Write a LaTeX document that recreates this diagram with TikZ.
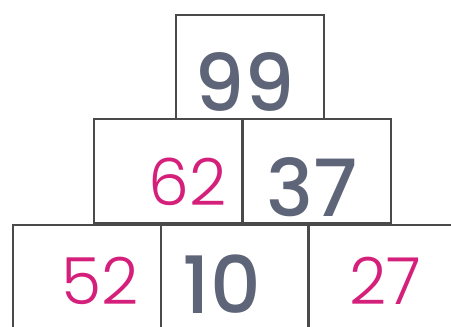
\documentclass[tikz,border=0pt]{standalone}
\usepackage{fontspec}
\newfontfamily\numfont{Poppins Medium}
\newfontfamily\handfont{Poppins Light}
\definecolor{inkgray}{HTML}{5E6578}
\definecolor{inkpink}{HTML}{D4207A}
\definecolor{linegray}{HTML}{4A4A4A}
\begin{document}
\begin{tikzpicture}[x=0.02cm,y=-0.02cm,
  cell/.style={draw=linegray,line width=0.9pt,minimum width=2.96cm,minimum height=2.08cm,inner sep=0pt,anchor=north west},
  given/.style={text=inkgray,font=\numfont\fontsize{45}{45}\selectfont,inner sep=0pt},
  found/.style={text=inkpink,font=\handfont\fontsize{37}{37}\selectfont,inner sep=0pt}]
\useasboundingbox (0,0) rectangle (451,326);
\clip (0,0) rectangle (451,326);
% top row
\node[cell] (top) at (175,14) {};
% middle row
\node[cell] (midl) at (93,118) {};
\node[cell] (midr) at (242,118) {};
% bottom row
\node[cell] (botl) at (12,224) {};
\node[cell] (botm) at (160,224) {};
\node[cell] (botr) at (307,224) {};
% numbers
\node[given] (n99) at (245,82) {99};
\node[found] (n62) at (188,182) {62};
\node[given] (n37) at (312,187) {37};
\node[found] (n52) at (100,281) {52};
\node[given] (n10) at (222,284) {10};
\node[found] (n27) at (385,281) {27};
\end{tikzpicture}
\end{document}
